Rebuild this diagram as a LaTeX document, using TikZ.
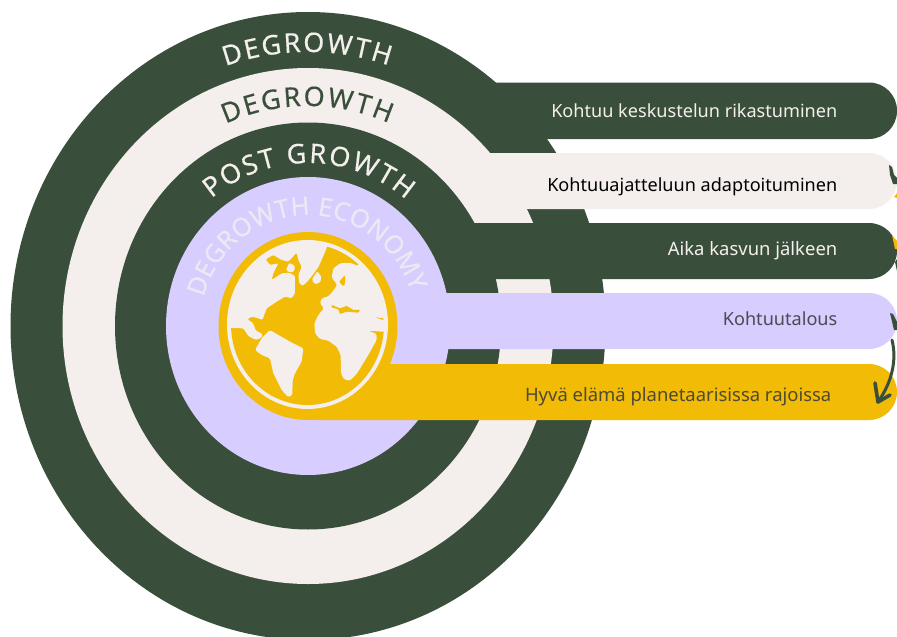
\documentclass[tikz,border=0pt]{standalone}
\usepackage{fontspec}
\setmainfont{Noto Sans}
\newfontfamily\arcfont[FakeBold=0.3]{Noto Sans}
\usetikzlibrary{decorations.text}
\definecolor{forest}{HTML}{3A4F3B}
\definecolor{paper}{HTML}{F4EFEC}
\definecolor{lilac}{HTML}{D7CDFE}
\definecolor{sun}{HTML}{F2BB05}
\definecolor{ink}{HTML}{4A4A52}
\definecolor{inkb}{HTML}{4D4A35}
\definecolor{paleletter}{HTML}{EEE8F4}
\tikzset{
  barlabel/.style={anchor=base east,inner sep=0pt,font=\fontsize{18.1}{21}\selectfont},
  barlabelwide/.style={barlabel,font=\fontsize{18.45}{21}\selectfont},
}
\newcommand{\arclabel}[7]{% rx ry start end colour size text
  \path[decorate,decoration={text along path,text align={fit to path},
     text={|\arcfont\fontsize{#6}{#6}\selectfont\color{#5}|#7}}]
     ([shift={(308,326)}]#3:#1pt and #2pt) arc[start angle=#3,end angle=#4,x radius=#1pt,y radius=#2pt];}
\begin{document}
\begin{tikzpicture}[x=1pt,y=-1pt]
\useasboundingbox (0,0) rectangle (897,637);
\fill[white] (0,0) rectangle (897,637);
\begin{scope}
\clip (0,0) rectangle (897,637);
% rings and bars
\fill[forest] (308,326) ellipse [x radius=297.5pt,y radius=314pt];
\fill[forest,rounded corners=28pt] (400,82.5) rectangle (897,139);
\fill[paper] (308,326) ellipse [x radius=245.5pt,y radius=258pt];
\fill[paper,rounded corners=28pt] (400,153) rectangle (897,209);
\fill[forest] (308,326) ellipse [x radius=193pt,y radius=203.5pt];
\fill[forest,rounded corners=28pt] (400,223) rectangle (897,279);
\fill[lilac] (308,326) ellipse [x radius=142pt,y radius=149pt];
\fill[lilac,rounded corners=28pt] (350,293) rectangle (897,349);
% arrow fragments hanging over the right edge
\fill[forest] (889,165) -- (892,167) -- (894,175) -- (897,178) -- (897,184) -- (893,184) -- (890,175) -- cycle;
\fill[sun] (894,197) -- (897,193) -- (897,198) -- cycle;
\fill[sun] (892,235) -- (897,241) -- (897,249) -- (895,249) -- cycle;
\fill[forest] (895,262) -- (897,259) -- (897,271) -- cycle;
\fill[forest] (890,313) -- (893,314) -- (897,322) -- (897,330) -- (894,330) -- cycle;
% yellow bar and globe
\fill[sun,rounded corners=28pt] (290,364) rectangle (897,420);
\fill[sun] (308,326) ellipse [x radius=89.5pt,y radius=94pt];
\fill[paper] (307.5,324.5) ellipse [x radius=80.5pt,y radius=84.5pt];
\fill[sun] (307.5,324.5) ellipse [x radius=76.5pt,y radius=80.5pt];
\begin{scope}
\clip (307.5,324.5) ellipse [x radius=77pt,y radius=81pt];
\begin{scope}[shift={(180,190)},x=0.3333pt,y=-0.3333pt]
\fill[paper,rounded corners=1.2pt] (120,413) -- (190,415) -- (205,438) -- (228,450) -- (245,443) -- (248,432) -- (228,422) -- (218,398) -- (202,388) -- (215,380) -- (235,385) -- (247,390) -- (260,355) -- (290,335) -- (315,320) -- (335,325) -- (345,310) -- (345,275) -- (345,258) -- (328,248) -- (305,250) -- (275,270) -- (280,250) -- (295,220) -- (270,225) -- (257,208) -- (280,195) -- (305,210) -- (325,215) -- (350,188) -- (355,210) -- (365,230) -- (355,255) -- (358,280) -- (368,288) -- (385,272) -- (415,232) -- (440,175) -- (445,100) -- (120,100) -- cycle;
\fill[paper,rounded corners=1.2pt] (318,240) -- (328,218) -- (345,228) -- (342,245) -- (328,247) -- cycle;
\fill[paper,rounded corners=1.5pt] (412,243) -- (425,262) -- (420,278) -- (405,283) -- (395,270) -- cycle;
\fill[paper,rounded corners=1.5pt] (225,480) -- (245,445) -- (270,420) -- (295,435) -- (330,455) -- (370,475) -- (365,515) -- (345,550) -- (338,570) -- (337,615) -- (325,622) -- (305,600) -- (280,550) -- (270,505) -- (245,495) -- cycle;
\fill[paper,rounded corners=1.5pt] (540,212) -- (535,228) -- (510,218) -- (480,220) -- (460,235) -- (455,262) -- (472,285) -- (465,295) -- (447,318) -- (425,325) -- (420,340) -- (432,355) -- (415,375) -- (403,400) -- (405,430) -- (420,447) -- (445,452) -- (470,470) -- (482,495) -- (483,550) -- (492,568) -- (510,572) -- (530,552) -- (565,495) -- (590,450) -- (590,432) -- (565,422) -- (605,425) -- (700,425) -- (700,200) -- cycle;
\fill[sun,rounded corners=1pt] (495,255) -- (478,275) -- (485,285) -- (493,288) -- (496,270) -- cycle;
\fill[sun,rounded corners=0.5pt] (455,345) -- (480,355) -- (500,348) -- (520,360) -- (540,360) -- (535,368) -- (500,365) -- (480,372) -- (475,358) -- (455,352) -- cycle;
\fill[sun] (585,382) -- (610,385) -- (610,390) -- cycle;
\end{scope}
\end{scope}
% long arrow
\coordinate (arrowstart) at (892,340);
\coordinate (arrowend) at (878,402);
\coordinate (barbl) at (875,383);
\coordinate (barbr) at (890,395);
\draw[forest,line width=3pt,line cap=round] (arrowstart) .. controls (897,360) and (892,382) .. (arrowend);
\draw[forest,line width=3.6pt,line cap=round,line join=round] (barbl) -- (arrowend) -- (barbr);
\end{scope}
% bar labels
\node[barlabel,text=paper] (t1) at (837.5,117.5) {Kohtuu keskustelun rikastuminen};
\node[barlabel,text=black] (t2) at (837.5,191) {Kohtuuajatteluun adaptoituminen};
\node[barlabelwide,text=paper] (t3) at (837.5,255.5) {Aika kasvun jälkeen};
\node[barlabel,text=ink] (t4) at (837.5,325) {Kohtuutalous};
\node[barlabelwide,text=inkb] (t5) at (831.5,401.5) {Hyvä elämä planetaarisissa rajoissa};
% curved labels
\arclabel{260}{274}{108.5}{71.9}{paper}{27}{DEGROWTH}
\arclabel{209}{220}{113.2}{67.2}{forest}{27}{DEGROWTH}
\arclabel{155}{163}{128.5}{50.8}{paper}{27}{POST GROWTH}
\arclabel{108}{111}{165}{18}{paleletter}{25.5}{DEGROWTH ECONOMY}
\end{tikzpicture}
\end{document}
